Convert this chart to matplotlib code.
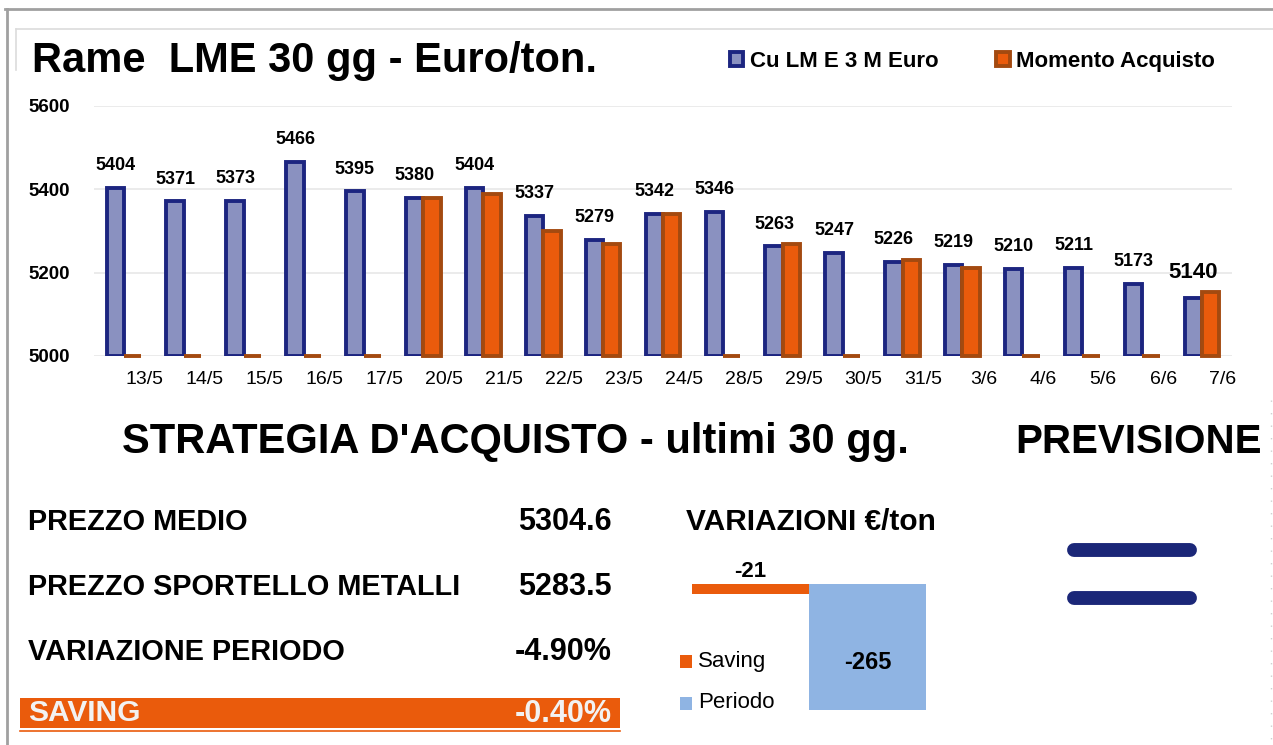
import matplotlib.pyplot as plt
from matplotlib.transforms import ScaledTranslation

plt.rcParams["font.family"] = ["Liberation Sans", "DejaVu Sans"]

dates = ["13/5", "14/5", "15/5", "16/5", "17/5", "20/5", "21/5", "22/5", "23/5", "24/5",
         "28/5", "29/5", "30/5", "31/5", "3/6", "4/6", "5/6", "6/6", "7/6"]
cu_lme = [5404, 5371, 5373, 5466, 5395, 5380, 5404, 5337, 5279, 5342,
          5346, 5263, 5247, 5226, 5219, 5210, 5211, 5173, 5140]
# 0 = nessun acquisto quel giorno
acquisto = [0, 0, 0, 0, 0, 5380, 5390, 5300, 5269, 5342,
            0, 5268, 0, 5230, 5212, 0, 0, 0, 5154]

table_labels = ["PREZZO MEDIO", "PREZZO SPORTELLO METALLI", "VARIAZIONE PERIODO"]
table_values = ["5304.6", "5283.5", "-4.90%"]
saving_label = "SAVING"
saving_value = "-0.40%"

var_names = ["Saving", "Periodo"]
var_values = [-21, -265]

BLUE_FILL = "#8a91c0"
BLUE_EDGE = "#1c2580"
ORANGE_FILL = "#ea5b0c"
ORANGE_EDGE = "#a34a10"
LIGHT_BLUE = "#8fb4e3"
NAVY = "#1b2778"

W, H = 1273, 745
fig = plt.figure(figsize=(W / 100, H / 100), dpi=100)

# background / annotations layer in pixel coordinates
bg = fig.add_axes([0, 0, 1, 1])
bg.set_xlim(0, W)
bg.set_ylim(H, 0)
bg.axis("off")

bg.plot([5, W], [9, 9], color="#a0a0a0", lw=2)
bg.plot([7, 7], [9, H], color="#a0a0a0", lw=2)
bg.plot([16, W], [29, 29], color="#dcdcdc", lw=1.2)
bg.plot([16, 16], [29, 70], color="#dcdcdc", lw=1.2)
bg.plot([1271, 1271], [400, H], color="#d0d0d0", lw=1, ls=(0, (1, 8)))


def px_rect(x0, y0, x1, y1):
    return [x0 / W, 1 - y1 / H, (x1 - x0) / W, (y1 - y0) / H]


# main bar chart
ax = fig.add_axes(px_rect(94, 106, 1232, 356))
x = list(range(len(dates)))
off = 0.145
bw = 0.29
ax.bar([i - off for i in x], [v - 5000 for v in cu_lme], bottom=5000, width=bw,
       color=BLUE_FILL, edgecolor=BLUE_EDGE, linewidth=2.8, zorder=3,
       label="Cu LM E 3 M Euro")
ax.bar([i + off for i in x], [max(v - 5000, 0) for v in acquisto], bottom=5000, width=bw,
       color=ORANGE_FILL, edgecolor=ORANGE_EDGE, linewidth=2.8, zorder=4, clip_on=False,
       label="Momento Acquisto")

ax.set_xlim(-0.5, len(dates) - 0.5)
ax.set_ylim(5000, 5600)
ax.set_yticks([5000, 5200, 5400, 5600])
ax.grid(axis="y", color="#e8e8e8", lw=1.2, zorder=0)
for s in ax.spines.values():
    s.set_visible(False)
ax.tick_params(length=0)
ax.set_xticks(x)
ax.set_xticklabels(dates, fontsize=14)
ax.tick_params(axis="x", pad=11)
shift = ScaledTranslation(21 / 100, 0, fig.dpi_scale_trans)
for lab in ax.get_xticklabels():
    lab.set_transform(lab.get_transform() + shift)
ax.set_yticklabels([str(v) for v in [5000, 5200, 5400, 5600]], fontsize=13.5,
                   fontweight="bold", ha="left")
ax.tick_params(axis="y", pad=47.5)

for i, v in enumerate(cu_lme):
    last = i == len(cu_lme) - 1
    ax.annotate(str(v), (i - off, v), xytext=(0, 18 if last else 16),
                textcoords="offset points", ha="center", va="center",
                fontsize=16 if last else 13, fontweight="bold", zorder=5)

bg.text(32, 61, "Rame  LME 30 gg - Euro/ton.", fontsize=30, fontweight="bold",
        va="center", ha="left")
leg = ax.legend(loc="upper left", bbox_to_anchor=(710 / W, 1 - 31 / H),
                bbox_transform=fig.transFigure, ncol=2, frameon=False,
                prop={"size": 16, "weight": "bold"}, handlelength=0.6,
                handleheight=0.6, handletextpad=0.3, columnspacing=2.6)

# bottom headings
bg.text(515, 442, "STRATEGIA D'ACQUISTO - ultimi 30 gg.", fontsize=30, fontweight="bold",
        ha="center", va="center")
bg.text(1138, 442, "PREVISIONE", fontsize=29, fontweight="bold", ha="center", va="center")

rows_y = [522, 587, 652]
for lab, val, yy in zip(table_labels, table_values, rows_y):
    bg.text(28, yy, lab, fontsize=20.8, fontweight="bold", ha="left", va="center")
    bg.text(612, yy, val, fontsize=22, fontweight="bold", ha="right", va="center")

bg.add_patch(plt.Rectangle((20, 698), 600, 30, color="#ea5b0c", lw=0))
bg.plot([20, 620], [731, 731], color="#ea5b0c", lw=1.2)
bg.text(28, 713, saving_label, fontsize=21.5, fontweight="bold", color="#f2f2f2",
        ha="left", va="center")
bg.text(612, 714, saving_value, fontsize=22, fontweight="bold", color="#f2f2f2",
        ha="right", va="center")

# variazioni mini chart
bg.text(686, 522, "VARIAZIONI €/ton", fontsize=21.5, fontweight="bold", ha="left", va="center")
ax2 = fig.add_axes(px_rect(692, 584, 926, 710))
ax2.bar([0, 1], var_values, width=1.0, color=[ORANGE_FILL, LIGHT_BLUE], lw=0)
ax2.set_xlim(-0.5, 1.5)
ax2.set_ylim(min(var_values), 0)
ax2.axis("off")
ax2.annotate(str(var_values[0]), (0, 0), xytext=(0, 9), textcoords="offset points",
             ha="center", va="center", fontsize=16, fontweight="bold")
ax2.text(1, var_values[1] * 0.62, str(var_values[1]), ha="center", va="center",
         fontsize=17, fontweight="bold")

for name, col, yy in zip(var_names, [ORANGE_FILL, LIGHT_BLUE], [661, 703]):
    bg.add_patch(plt.Rectangle((680, yy - 6), 12, 13, color=col, lw=0))
    bg.text(698, yy, name, fontsize=16, ha="left", va="center")

# previsione: stabile
for yy in [550, 598]:
    bg.plot([1074, 1190], [yy, yy], color=NAVY, lw=10, solid_capstyle="round")

fig.savefig("out.png", dpi=100)
